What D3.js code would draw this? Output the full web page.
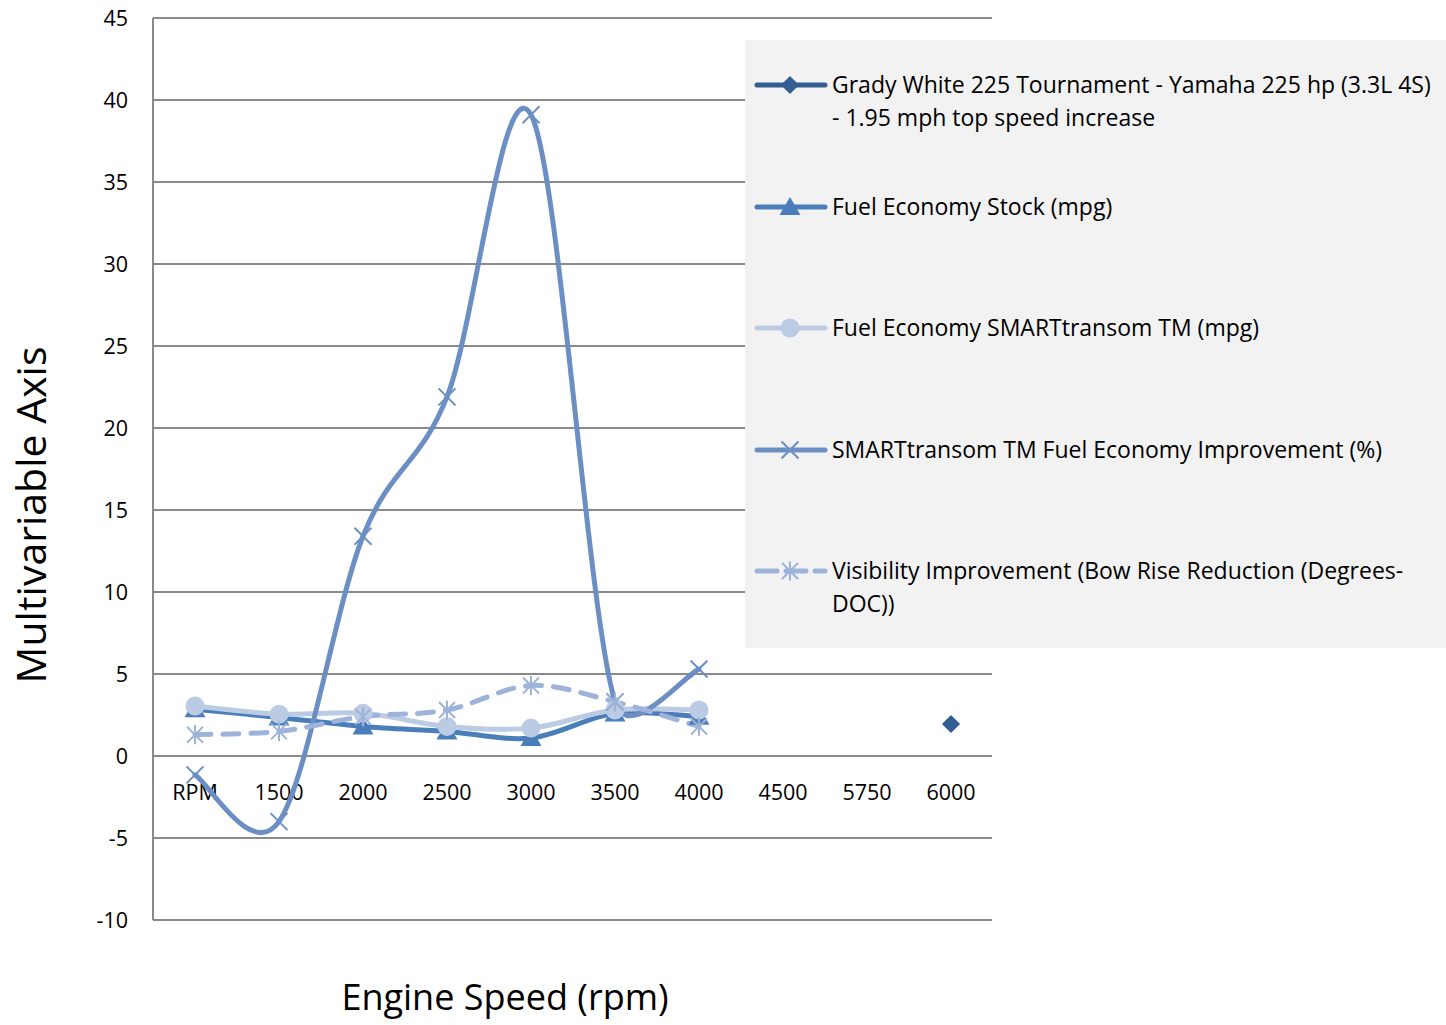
<!DOCTYPE html>
<html>
<head>
<meta charset="utf-8">
<script src="https://cdn.jsdelivr.net/npm/d3@7"></script>
<style>
  body { margin: 0; background: #fff; }
  svg { display: block; }
  text { font-family: "Open Sans", "Noto Sans", sans-serif; fill: #000; }
</style>
</head>
<body>
<svg id="chart" width="1446" height="1025"></svg>
<script>
// categories on the x axis
let categories = ["RPM", "1500", "2000", "2500", "3000", "3500", "4000", "4500", "5750", "6000"];
let yTicks = [-10, -5, 0, 5, 10, 15, 20, 25, 30, 35, 40, 45];

// series values (null = no point)
let gradyWhite = [null, null, null, null, null, null, null, null, null, 1.95];
let stockMpg = [2.85, 2.35, 1.8, 1.5, 1.1, 2.6, 2.4, null, null, null];
let smartMpg = [3.05, 2.55, 2.6, 1.8, 1.7, 2.8, 2.8, null, null, null];
let improvementPct = [-1.15, -4.0, 13.4, 21.9, 39.1, 3.3, 5.3, null, null, null];
let visibility = [1.3, 1.5, 2.4, 2.8, 4.3, 3.3, 1.8, null, null, null];

let legendLabels = [
    ["Grady White 225 Tournament - Yamaha 225 hp (3.3L 4S)", "- 1.95 mph top speed increase"],
    ["Fuel Economy Stock (mpg)"],
    ["Fuel Economy SMARTtransom TM (mpg)"],
    ["SMARTtransom TM Fuel Economy Improvement (%)"],
    ["Visibility Improvement (Bow Rise Reduction (Degrees-", "DOC))"]
];

let svg = d3.select("#chart");

let x = d3.scaleBand().domain(categories).range([153, 993]);
let y = d3.scaleLinear().domain([-10, 45]).range([920, 18]);
let cx = function (c) { return x(c) + x.bandwidth() / 2; };

// spreadsheet-style smoothed line: bezier with 1/6 tangents,
// control arm clamped to half the segment length
function smoothPath(p) {
    let dist = function (a, b) { return Math.hypot(b[0] - a[0], b[1] - a[1]); };
    let s = "M" + p[0][0] + "," + p[0][1];
    for (let i = 0; i < p.length - 1; i++) {
        let p0 = p[Math.max(i - 1, 0)], p1 = p[i], p2 = p[i + 1], p3 = p[Math.min(i + 2, p.length - 1)];
        let d12 = dist(p1, p2), d02 = dist(p0, p2), d13 = dist(p1, p3);
        let f1 = 1 / 6, f2 = 1 / 6;
        if (d02 / 6 >= d12 / 2) f1 = d12 / d02 / 2;
        if (d13 / 6 >= d12 / 2) f2 = d12 / d13 / 2;
        let c1 = [p1[0] + (p2[0] - p0[0]) * f1, p1[1] + (p2[1] - p0[1]) * f1];
        let c2 = [p2[0] - (p3[0] - p1[0]) * f2, p2[1] - (p3[1] - p1[1]) * f2];
        s += "C" + c1[0] + "," + c1[1] + " " + c2[0] + "," + c2[1] + " " + p2[0] + "," + p2[1];
    }
    return s;
}

// gridlines
svg.append("g").selectAll("line")
    .data(yTicks)
    .enter()
    .append("line")
    .attr("x1", 153).attr("x2", 992)
    .attr("y1", function (d) { return y(d); })
    .attr("y2", function (d) { return y(d); })
    .attr("stroke", "#8a8a8a")
    .attr("stroke-width", 2);

// y axis line
svg.append("line")
    .attr("x1", 153).attr("x2", 153)
    .attr("y1", y(45)).attr("y2", y(-10))
    .attr("stroke", "#8a8a8a")
    .attr("stroke-width", 2);

// y tick labels
svg.append("g").selectAll("text")
    .data(yTicks)
    .enter()
    .append("text")
    .attr("x", 128)
    .attr("y", function (d) { return y(d); })
    .attr("dy", "0.35em")
    .attr("text-anchor", "end")
    .style("font-size", "21.5px")
    .text(function (d) { return d; });

// category labels, placed just under the zero line
svg.append("g").selectAll("text")
    .data(categories)
    .enter()
    .append("text")
    .attr("x", function (d) { return cx(d); })
    .attr("y", y(0) + 44)
    .attr("text-anchor", "middle")
    .style("font-size", "21.5px")
    .text(function (d) { return d; });

// axis titles
svg.append("text")
    .attr("transform", "translate(46," + 515 + ") rotate(-90)")
    .attr("text-anchor", "middle")
    .style("font-size", "41px")
    .text("Multivariable Axis");

svg.append("text")
    .attr("x", 505)
    .attr("y", 1010)
    .attr("text-anchor", "middle")
    .style("font-size", "36px")
    .text("Engine Speed (rpm)");

// marker shapes
let xMark = function (r) {
    return "M" + (-r) + "," + (-r) + "L" + r + "," + r + "M" + (-r) + "," + r + "L" + r + "," + (-r);
};
let starMark = function (r) {
    return xMark(r) + "M0," + (-r * 1.2) + "L0," + (r * 1.2);
};

let series = [
    {name: "grady", values: gradyWhite, color: "#335e94", width: 5, dash: null,
        marker: function (g, c) { g.append("path").attr("d", d3.symbol(d3.symbolSquare, 165)()).attr("transform", "rotate(45)").attr("fill", c); }},
    {name: "stock", values: stockMpg, color: "#4a7ebb", width: 5, dash: null,
        marker: function (g, c) { g.append("path").attr("d", d3.symbol(d3.symbolTriangle, 190)()).attr("transform", "translate(0,2)").attr("fill", c); }},
    {name: "smart", values: smartMpg, color: "#bccbe4", width: 5, dash: null,
        marker: function (g, c) { g.append("circle").attr("r", 9.5).attr("fill", c); }},
    {name: "improve", values: improvementPct, color: "#6c8fc3", width: 5, dash: null,
        marker: function (g, c) { g.append("path").attr("d", xMark(8.5)).attr("stroke", c).attr("stroke-width", 2).attr("fill", "none"); }},
    {name: "visib", values: visibility, color: "#9db3d9", width: 5, dash: "16,12",
        marker: function (g, c) { g.append("path").attr("d", starMark(8)).attr("stroke", c).attr("stroke-width", 2).attr("fill", "none"); }}
];

// draw lines
series.forEach(function (s) {
    let pts = categories.map(function (c, i) { return {c: c, v: s.values[i]}; })
        .filter(function (d) { return d.v !== null; });
    if (pts.length > 1) {
        svg.append("path")
            .attr("d", smoothPath(pts.map(function (d) { return [cx(d.c), y(d.v)]; })))
            .attr("fill", "none")
            .attr("stroke", s.color)
            .attr("stroke-width", s.width)
            .attr("stroke-linecap", "round")
            .attr("stroke-linejoin", "round")
            .attr("stroke-dasharray", s.dash);
    }
    s.pts = pts;
});

// draw markers on top
series.forEach(function (s) {
    svg.append("g").selectAll("g")
        .data(s.pts)
        .enter()
        .append("g")
        .attr("transform", function (d) { return "translate(" + cx(d.c) + "," + y(d.v) + ")"; })
        .each(function () { s.marker(d3.select(this), s.color); });
});

// legend
let legend = svg.append("g");
legend.append("rect")
    .attr("x", 745).attr("y", 40)
    .attr("width", 701).attr("height", 608)
    .attr("fill", "#f2f2f2");

let legendY = [85, 207, 328, 450, 571];
series.forEach(function (s, i) {
    let g = legend.append("g").attr("transform", "translate(0," + legendY[i] + ")");
    g.append("line")
        .attr("x1", 757).attr("x2", 825)
        .attr("y1", 0).attr("y2", 0)
        .attr("stroke", s.color)
        .attr("stroke-width", s.width)
        .attr("stroke-linecap", "round")
        .attr("stroke-dasharray", s.dash ? "20,9" : null);
    let m = g.append("g").attr("transform", "translate(790,0)");
    s.marker(m, s.color);
    legendLabels[i].forEach(function (t, k) {
        g.append("text")
            .attr("x", 832)
            .attr("y", k * 33)
            .attr("dy", "0.35em")
            .style("font-size", "23px")
            .text(t);
    });
});
</script>
</body>
</html>
